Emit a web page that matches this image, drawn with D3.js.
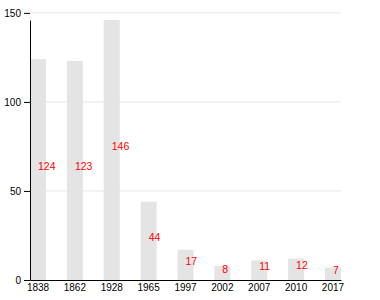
<!DOCTYPE html>
<html>
<head>
<meta charset="utf-8">
<script src="https://cdn.jsdelivr.net/npm/d3@7"></script>
<style>
  body { margin: 0; background: #fff; }
  text { font-family: "Liberation Sans", Arial, sans-serif; }
</style>
</head>
<body>
<script>
var years = ["1838", "1862", "1928", "1965", "1997", "2002", "2007", "2010", "2017"];
var values = [124, 123, 146, 44, 17, 8, 11, 12, 7];
var yTicks = [0, 50, 100, 150];

var margin = {top: 20, right: 39, bottom: 20, left: 30},
    width = 380 - margin.left - margin.right,
    height = 300 - margin.top - margin.bottom;

var svg = d3.select("body").append("svg")
    .attr("width", 380)
    .attr("height", 300)
  .append("g")
    .attr("transform", "translate(" + margin.left + "," + margin.top + ")");

var xScale = d3.scaleBand()
    .domain(years)
    .range([0, width])
    .paddingInner(0.566)
    .paddingOuter(0);

var yScale = d3.scaleLinear()
    .domain([0, d3.max(values)])
    .range([height, 0]);

// grid lines
svg.append("g")
    .selectAll("line")
    .data(yTicks.filter(function(d) { return d > 0; }))
    .enter()
    .append("line")
    .attr("x1", 0)
    .attr("x2", width)
    .attr("y1", function(d) { return yScale(d); })
    .attr("y2", function(d) { return yScale(d); })
    .attr("stroke", "#e6e6e6")
    .attr("stroke-width", 1);

// bars
svg.selectAll("rect.bar")
    .data(values)
    .enter()
    .append("rect")
    .attr("class", "bar")
    .attr("x", function(d, i) { return xScale(years[i]); })
    .attr("y", function(d) { return yScale(d); })
    .attr("width", xScale.bandwidth())
    .attr("height", function(d) { return height - yScale(d); })
    .attr("fill", "#e4e4e4");

// value labels
svg.selectAll("text.lbl")
    .data(values)
    .enter()
    .append("text")
    .attr("class", "lbl")
    .attr("x", function(d, i) { return xScale(years[i]) + xScale.bandwidth() / 2; })
    .attr("y", function(d) { return (yScale(d) + height) / 2; })
    .attr("fill", "red")
    .style("font-size", "10.5px")
    .text(function(d) { return d; });

// axes
svg.append("g")
    .attr("transform", "translate(0," + height + ")")
    .call(d3.axisBottom(xScale).tickSize(0).tickPadding(4))
    .call(function(g) {
      g.selectAll("text").style("font-size", "10px").attr("fill", "#000");
      g.select(".domain").attr("stroke", "#000");
    });

svg.append("g")
    .call(d3.axisLeft(yScale).tickValues(yTicks).tickSizeOuter(0))
    .call(function(g) {
      g.selectAll("text").style("font-size", "10px").attr("fill", "#000");
      g.select(".domain").attr("stroke", "#000");
    });
</script>
</body>
</html>
